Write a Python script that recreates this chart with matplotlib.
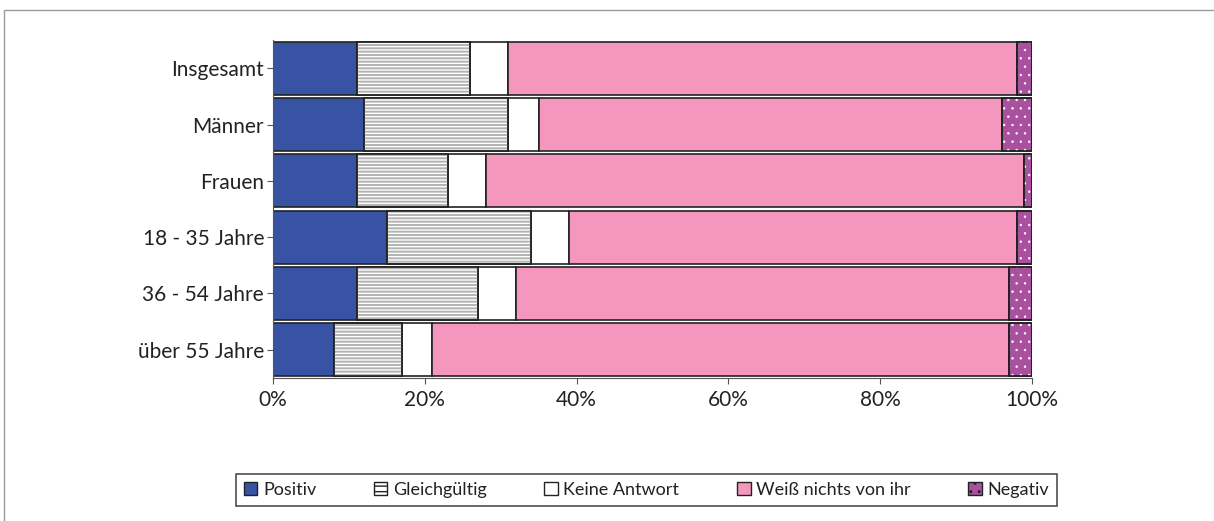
import matplotlib.pyplot as plt
from matplotlib.patches import Rectangle
import numpy as np

plt.rcParams['font.family'] = ['Lato', 'DejaVu Sans']
plt.rcParams['text.color'] = '#222222'

groups = ["Insgesamt", "Männer", "Frauen", "18 - 35 Jahre", "36 - 54 Jahre", "über 55 Jahre"]
positiv = [11, 12, 11, 15, 11, 8]
gleichgueltig = [15, 19, 12, 19, 16, 9]
keine_antwort = [5, 4, 5, 5, 5, 4]
weiss_nicht = [67, 61, 71, 59, 65, 76]
negativ = [2, 4, 1, 2, 3, 3]

# name, values, face colour, hatch, hatch colour, hatch line width
series = [
    ("Positiv", positiv, "#3953a4", None, None, 1.0),
    ("Gleichgültig", gleichgueltig, "white", "-----", "#b2b2b2", 1.4),
    ("Keine Antwort", keine_antwort, "white", None, None, 1.0),
    ("Weiß nichts von ihr", weiss_nicht, "#f496be", None, None, 1.0),
    ("Negativ", negativ, "#a9519f", "..", "white", 0.5),
]

fig = plt.figure(figsize=(12.14, 5.21), dpi=100)
ax = fig.add_axes([0.2249, 0.2745, 0.6252, 0.6487])

# outer frame
fig.patches.append(Rectangle((0.003, -0.05), 1.2, 1.031, transform=fig.transFigure,
                             fill=False, edgecolor="#9a9a9a", linewidth=1.0))

y = np.arange(len(groups))
left = np.zeros(len(groups))
handles = []
for name, vals, color, hatch, hcol, hlw in series:
    vals = np.array(vals, dtype=float)
    plt.rcParams['hatch.linewidth'] = hlw
    ax.barh(y, vals, left=left, height=0.94, color=color, edgecolor="#222222",
            linewidth=1.2, zorder=2)
    if hatch:
        ax.barh(y, vals, left=left, height=0.94, color="none", edgecolor=hcol,
                hatch=hatch, linewidth=0, zorder=3)
        ax.barh(y, vals, left=left, height=0.94, color="none", edgecolor="#222222",
                linewidth=1.2, zorder=4)
    left += vals
    plt.rcParams['hatch.linewidth'] = 1.0
    h = Rectangle((0, 0), 1, 1, facecolor=color, edgecolor="#222222", linewidth=1.0,
                  hatch="---" if hatch == "-----" else hatch)
    handles.append(h)

ax.set_xlim(0, 100)
ax.set_ylim(len(groups) - 0.5, -0.5)
ax.set_yticks(y)
ax.set_yticklabels(groups, fontsize=15)
ax.set_xticks(np.arange(0, 101, 20))
ax.set_xticklabels([f"{v}%" for v in range(0, 101, 20)], fontsize=15)
ax.tick_params(axis="both", direction="out", length=4, color="#555555",
               labelcolor="#222222")
ax.tick_params(axis="y", pad=2.5)
ax.tick_params(axis="x", pad=5)
ax.spines["top"].set_visible(False)
ax.spines["right"].set_visible(False)
ax.spines["left"].set_color("#555555")
ax.spines["bottom"].set_color("#555555")

leg = fig.legend(handles, [s[0] for s in series], loc="center",
                 bbox_to_anchor=(0.5325, 0.0595), ncol=5, fontsize=13,
                 frameon=True, fancybox=False, edgecolor="#222222",
                 handlelength=0.75, handleheight=0.75, handletextpad=0.3,
                 columnspacing=3.2, borderpad=0.45)
leg.get_frame().set_linewidth(1.2)

fig.savefig("out.png", dpi=100)
